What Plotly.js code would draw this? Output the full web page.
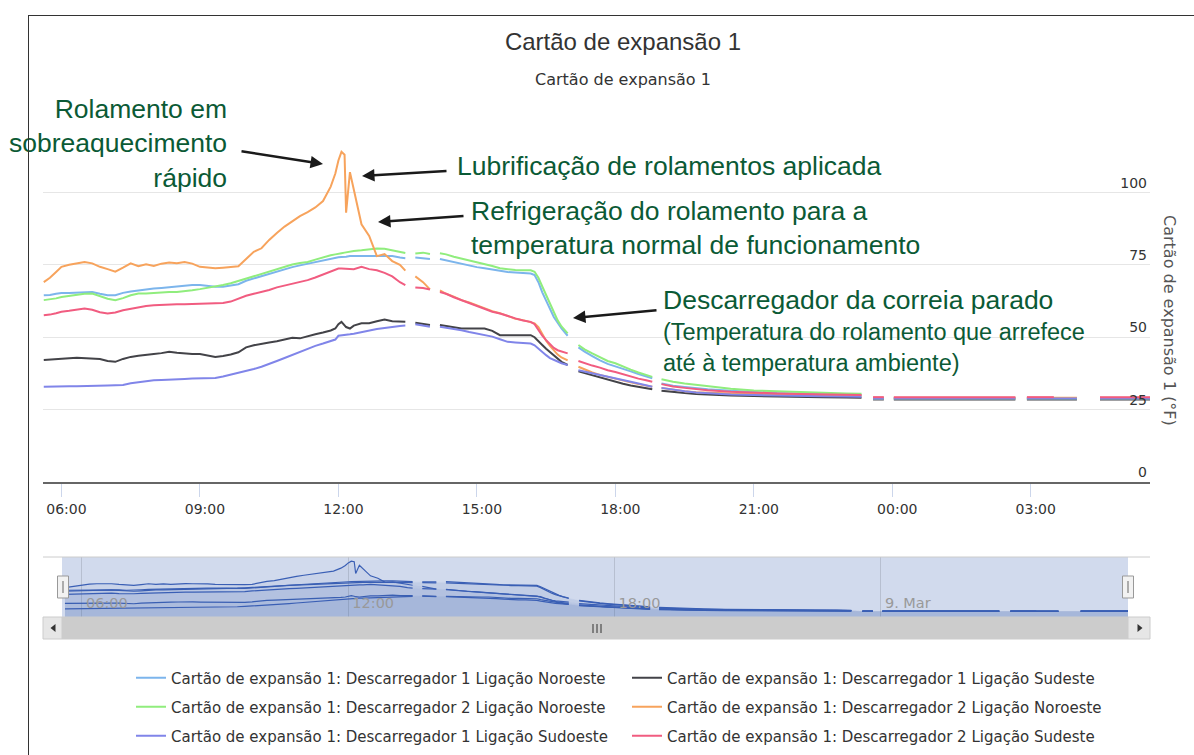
<!DOCTYPE html>
<html>
<head>
<meta charset="utf-8">
<script src="https://cdn.plot.ly/plotly-3.0.1.min.js"></script>
<style>
html,body{margin:0;padding:0;background:#fff;overflow:hidden}
#chart{width:1194px;height:755px;position:absolute;left:0;top:0}
#frame{position:absolute;left:28px;top:15px;right:-4px;bottom:-4px;border-left:1px solid #333;border-top:1px solid #333;pointer-events:none}
</style>
</head>
<body>
<div id="chart"></div>
<div id="frame"></div>
<script>
// ---------------- DATA ----------------
const DAY1 = '2015-03-08', DAY2 = '2015-03-09';
const timeLabels = [
'05:37','05:45','05:53','06:00','06:10','06:20','06:30','06:40','06:50','07:00',
'07:10','07:20','07:30','07:40','07:50','08:00','08:10','08:20','08:30','08:40',
'08:50','09:00','09:10','09:20','09:30','09:40','09:50','10:00','10:10','10:20',
'10:30','10:40','10:50','11:00','11:10','11:20','11:30','11:40','11:50','11:56',
'12:00','12:04','12:08','12:10','12:15','12:20','12:30','12:40','12:50','13:00',
'13:10','13:20','13:27','13:33','13:40','13:50','13:59','14:05','14:12','14:20',
'14:30','14:40','14:50','15:00','15:10','15:20','15:30','15:40','15:50','16:00',
'16:10','16:15','16:20','16:25','16:30','16:35','16:40','16:45','16:50','16:58',
'17:05','17:12','17:20','17:30','17:40','17:50','18:00','18:10','18:20','18:30',
'18:40','18:48','18:54','19:00','19:15','19:30','19:45','20:00','20:30','21:00',
'21:30','22:00','22:30','23:00','23:20','23:27','23:35','23:49','23:54','00:02',
'01:00','02:00','02:40','02:48','02:55','03:30','04:00','04:15','04:30','05:00',
'05:35'];

const seriesNames = [
'Cartão de expansão 1: Descarregador 1 Ligação Noroeste',
'Cartão de expansão 1: Descarregador 1 Ligação Sudeste',
'Cartão de expansão 1: Descarregador 2 Ligação Noroeste',
'Cartão de expansão 1: Descarregador 2 Ligação Noroeste',
'Cartão de expansão 1: Descarregador 1 Ligação Sudoeste',
'Cartão de expansão 1: Descarregador 2 Ligação Sudeste'];
const seriesColors = ['#7cb5ec','#434348','#90ed7d','#f7a35c','#8085e9','#f15c80'];

const d1Noroeste = [
64.5,64.6,65,65.3,65.3,65.4,65.6,65.6,65,64.5,
64.5,65.3,65.8,66.2,66.5,66.8,67,67.3,67.5,67.7,
68,68,67.7,67.4,67.4,67.8,68.3,69.5,70.3,71.2,
72,72.8,73.4,74.2,74.8,75.4,76,76.6,77,77.3,
77.6,77.7,77.7,77.8,78,78,78.2,78.2,78.2,78,
78,77.5,77.3,null,77.5,77.2,77,null,77,76.5,
76,75.5,74.8,74.2,73.8,73.3,72.8,72.5,72.3,72.2,
72,71.5,69,65.5,62.5,59.5,57,55,53,50.5,
null,46.5,45,43.5,42,40.8,40,39,38.2,37.3,
36.5,35.8,null,34,33.2,32.8,32.4,32,31.5,31,
30.7,30.5,30.3,30.2,30,null,29,29,null,29,
29,29,29,null,29,29,29,null,29,29,
29];
const d1Sudeste = [
42.1,42.3,42.5,42.7,42.7,42.9,42.7,42.7,42.5,41.8,
41.5,42.5,43.2,43.6,44,44.2,44.5,45,44.6,44.3,
44.2,44.2,43.8,43.2,43.5,44,44.8,46.5,47.2,47.8,
48.2,48.6,49.3,49.8,49.6,50.4,51,51.6,52.3,53,
54.5,55.3,54.3,53.5,53,54,54.8,54.8,55.5,56.1,
55.5,55.3,55.3,null,55,54.7,54.2,null,54.2,53.8,
53.3,53,53,53,53,52.2,50.7,50.7,50.7,50.7,
50.7,50,48.5,47.3,46,44.8,43.8,42.5,41.5,40.4,
null,38.2,37.6,36.8,36,35.2,34.6,33.9,33.3,32.8,
32.3,32,null,31.5,31,30.7,30.4,30.2,29.9,29.7,
29.5,29.4,29.3,29.2,29.1,null,28.5,28.5,null,28.5,
28.5,28.5,28.5,null,28.5,28.5,28.5,null,28.5,28.5,
28.5];
const d2Noroeste = [
62.8,63,63.4,63.9,64.3,64.7,65,65.1,64.2,63.3,
62.8,63.5,64.5,65.1,65.1,65.3,65.5,65.6,65.6,65.8,
66.2,66.6,67,67.4,68,68.6,69.4,70.2,71,71.8,
72.8,73.6,74.4,75.1,75.6,76,76.8,77.6,78.3,78.6,
78.9,79,79.2,79.3,79.6,79.8,80,80.3,80.6,80.5,
80,79.4,79.1,null,78.9,79.2,78.7,null,79,78.6,
77.8,77.2,76.5,76,75.4,74.6,73.8,73.4,73.2,73.1,
73.1,72.6,70.5,67.5,64.5,61.5,58.2,55.8,53.7,51.3,
null,47.3,45.8,44.4,43,41.8,41,39.8,38.8,37.8,
37,36.3,null,35.5,34.6,34,33.5,33,32.2,31.6,
31.3,31,30.8,30.6,30.5,null,28.8,28.8,null,28.8,
28.8,28.8,28.8,null,28.8,28.8,28.8,null,28.8,28.8,
28.8];
const d2NoroesteB = [
69,70.5,72.5,74.3,75,75.5,76,75.5,74.3,73.5,
72.6,74,75.5,74.5,75.2,74.6,75.4,75.8,75.5,76,
75.4,74.3,74,73.8,74,74.2,74.5,77,79.5,80.7,
83.6,86,88.2,90,91.8,93.2,94.8,97,102,106.5,
111,114,113,93,107,101,89,85,78,78.7,
76.3,75,73,null,71,69,66.5,null,66.2,65,
64,62.8,62,61,60,59,58.3,57.3,56.4,55.9,
55.3,54.8,53.5,51,48.8,47,45.5,44,43,42,
null,39.8,38.8,37.8,37,36.3,35.8,35.1,34.4,33.8,
33.3,32.9,null,32.5,31.8,31.3,31,30.8,30.6,30.4,
30.3,30.2,30,29.9,29.8,null,29.1,29.1,null,29.1,
29.1,29.1,29.1,null,29.1,29.1,29.1,null,29.1,29.1,
29.1];
const d1Sudoeste = [
32.9,33,33,33.1,33.1,33.1,33.1,33.2,33.2,33.3,
33.4,33.5,34.1,34.5,34.8,35.1,35.2,35.4,35.5,35.6,
35.7,35.7,35.8,35.9,36.4,37,37.6,38.2,39,39.8,
40.7,41.8,42.8,43.9,45,46.1,47,47.8,48.6,49.2,
50.5,50.7,50.7,50.8,51,51.2,51.8,52.4,52.8,53.2,
53.6,53.9,54,null,54.5,54,53.6,null,53.6,53.3,
52.8,52.4,51.8,51.3,50.9,50.2,49.3,48.4,48.2,48,
47.8,47.2,46,44.8,43.8,42.8,42.1,41.6,41,40.4,
null,38.6,38.1,37.5,36.9,36.3,35.8,35.2,34.6,34,
33.4,32.9,null,32.5,31.8,31.3,30.9,30.6,30.2,30,
29.8,29.7,29.6,29.5,29.4,null,28.8,28.8,null,28.8,
28.8,28.8,28.8,null,28.8,28.8,28.8,null,28.8,28.8,
28.8];
const d2Sudeste = [
57.6,57.8,58.3,58.8,59.1,59.5,59.9,59.5,58.6,58.2,
58.5,59.3,59.8,60.3,60.8,61,61.2,61.3,61.4,61.4,
61.5,61.5,61.6,61.6,61.8,62.3,63.3,64.3,65,65.6,
66.3,67.2,67.8,68.6,69.2,69.7,70.6,71.6,72.6,73.2,
73.7,73.7,73.7,73.7,73.7,73.5,74.3,73.5,73.1,72.2,
71,69,68,null,67.2,67,66.5,null,65.6,65,
63.8,62.8,61.8,61,60,58.8,58.2,57.3,56.5,55.8,
55.3,54.5,52.5,50.5,49,47.5,46.3,45.5,45,44.4,
null,41.8,41,40.2,39.5,38.6,38,37.2,36.4,35.7,
35.1,34.6,null,33.8,33,32.5,32,31.7,31.2,30.8,
30.6,30.4,30.2,30.1,30,null,29.3,29.3,null,29.3,
29.3,29.3,29.3,null,29.3,29.3,null,null,29.3,29.3,
29.3];
const seriesValues = [d1Noroeste, d1Sudeste, d2Noroeste, d2NoroesteB, d1Sudoeste, d2Sudeste];

const xTickTimes = ['2015-03-08 06:00','2015-03-08 09:00','2015-03-08 12:00','2015-03-08 15:00','2015-03-08 18:00','2015-03-08 21:00','2015-03-09 00:00','2015-03-09 03:00'];
const xTickText = ['06:00','09:00','12:00','15:00','18:00','21:00','00:00','03:00'];
const yTickVals = [0,25,50,75,100,125];
const yTickText = ['0','25','50','75','100',''];
const navTickTimes = ['2015-03-08 06:00','2015-03-08 12:00','2015-03-08 18:00','2015-03-09 00:00'];
const navTickText = ['06:00','12:00','18:00','9. Mar'];

// ---------------- BUILD ----------------
function toDates(labels){
  let day = DAY1, prev = -1;
  return labels.map(t => { const h = parseInt(t.slice(0,2),10); if (h < prev) day = DAY2; prev = h; return day + ' ' + t; });
}
const times = toDates(timeLabels);

const L = 43, R = 1150, T = 120, B = 638;
const px = x => (x - L) / (R - L);
const py = y => (B - y) / (B - T);

const legendIds = ['legend','legend','legend2','legend2','legend3','legend3'];
const traces = [];
seriesValues.forEach((vals, i) => {
  traces.push({
    x: times, y: vals, xaxis: 'x2', yaxis: 'y2', type: 'scatter', mode: 'lines',
    line: {color: '#3a5fb5', width: 1.2}, fill: 'tozeroy', fillcolor: 'rgba(51,92,173,0.05)',
    connectgaps: false, showlegend: false, hoverinfo: 'skip'
  });
});
seriesValues.forEach((vals, i) => {
  traces.push({
    x: times, y: vals, xaxis: 'x', yaxis: 'y', type: 'scatter', mode: 'lines',
    name: seriesNames[i], legend: legendIds[i],
    line: {color: seriesColors[i], width: 2}, connectgaps: false, hoverinfo: 'skip'
  });
});

const tickFont = {family: 'DejaVu Sans, Verdana, sans-serif', size: 14, color: '#333'};
const annFont = {family: 'Liberation Sans, Arial, sans-serif', size: 26.5, color: '#0b5a35'};
const annFontSmall = {family: 'Liberation Sans, Arial, sans-serif', size: 23.5, color: '#0b5a35'};

const legBase = {orientation: 'h', x: px(131), xanchor: 'left', yanchor: 'middle',
  entrywidth: 451, entrywidthmode: 'pixels', bgcolor: 'rgba(0,0,0,0)', borderwidth: 0,
  font: {family: 'DejaVu Sans, Verdana, sans-serif', size: 15, color: '#333'}, traceorder: 'normal'};

function arrow(hx, hy, tx, ty){
  return {xref: 'paper', yref: 'paper', x: px(hx), y: py(hy), ax: tx - hx, ay: ty - hy,
    axref: 'pixel', ayref: 'pixel', text: '', showarrow: true, arrowhead: 2, arrowsize: 1,
    arrowwidth: 2.5, arrowcolor: '#1a1a1a', standoff: 0, startstandoff: 0};
}
function rect(x0, y0, x1, y1, fill, line, layer){
  return {type: 'rect', xref: 'paper', yref: 'paper', x0: px(x0), x1: px(x1), y0: py(y1), y1: py(y0),
    fillcolor: fill, line: line ? {color: line, width: 1} : {width: 0}, layer: layer || 'above'};
}
function seg(x0, y0, x1, y1, color, w){
  return {type: 'line', xref: 'paper', yref: 'paper', x0: px(x0), x1: px(x1), y0: py(y0), y1: py(y1),
    line: {color: color, width: w || 1}};
}
function tri(pts, color){
  const d = pts.map((p, k) => (k ? 'L' : 'M') + px(p[0]) + ',' + py(p[1])).join(' ') + ' Z';
  return {type: 'path', xref: 'paper', yref: 'paper', path: d, fillcolor: color, line: {width: 0}};
}

const layout = {
  width: 1194, height: 755,
  margin: {l: L, r: 1194 - R, t: T, b: 755 - B, pad: 0, autoexpand: false},
  paper_bgcolor: '#ffffff', plot_bgcolor: 'rgba(0,0,0,0)',
  hovermode: false, dragmode: false,
  title: {text: 'Cartão de expansão 1', xref: 'container', yref: 'container', x: 623/1194, y: 1 - 42/755,
    xanchor: 'center', yanchor: 'middle', font: {family: 'Liberation Sans, Arial, sans-serif', size: 24, color: '#333'}},
  xaxis: {type: 'date', domain: [0, 1], anchor: 'y', range: ['2015-03-08 05:36', '2015-03-09 05:35'],
    tickmode: 'array', tickvals: xTickTimes, ticktext: xTickText, ticks: 'outside', ticklen: 13,
    tickcolor: '#ccd6eb', tickwidth: 1, ticklabelshift: 5, showgrid: false, showline: true, linecolor: '#666', linewidth: 2,
    zeroline: false, tickfont: tickFont, automargin: false, fixedrange: true},
  yaxis: {domain: [py(482), 1], anchor: 'x', side: 'right', range: [0, 125], tickmode: 'array',
    tickvals: yTickVals, ticktext: yTickText, ticklabelposition: 'inside top', ticks: '',
    showgrid: true, gridcolor: '#e6e6e6', gridwidth: 1, zeroline: false, showline: false,
    tickfont: tickFont, automargin: false, fixedrange: true},
  xaxis2: {type: 'date', domain: [px(62), px(1128)], anchor: 'y2', range: ['2015-03-08 05:33', '2015-03-09 05:34'],
    tickmode: 'array', tickvals: navTickTimes, ticktext: navTickText, ticklabelposition: 'inside right',
    ticklabelshift: 4, ticks: '', showgrid: true, gridcolor: 'rgba(0,0,0,0.12)', showline: false, zeroline: false,
    tickfont: {family: 'DejaVu Sans, Verdana, sans-serif', size: 14.5, color: '#999'}, automargin: false, fixedrange: true},
  yaxis2: {domain: [py(617), py(557)], anchor: 'x2', range: [19, 121], visible: false, fixedrange: true},
  legend: Object.assign({}, legBase, {y: py(678)}),
  legend2: Object.assign({}, legBase, {y: py(707)}),
  legend3: Object.assign({}, legBase, {y: py(736)}),
  shapes: [
    rect(62, 557, 1128, 617, 'rgba(102,133,194,0.3)', null, 'below'),
    seg(43, 557, 1150, 557, '#cccccc', 1),
    rect(43, 617, 1150, 639, '#f2f2f2', null),
    rect(62, 617, 1128, 639, '#cccccc', '#cccccc'),
    rect(43, 617, 62, 639, '#e6e6e6', '#cccccc'),
    rect(1128, 617, 1150, 639, '#e6e6e6', '#cccccc'),
    tri([[55.5, 624], [50.5, 628], [55.5, 632]], '#333'),
    tri([[1137.5, 624], [1142.5, 628], [1137.5, 632]], '#333'),
    seg(593, 624, 593, 633, '#333', 1),
    seg(597, 624, 597, 633, '#333', 1),
    seg(601, 624, 601, 633, '#333', 1),
    rect(57.5, 576, 68.5, 598, '#f2f2f2', '#999999'),
    rect(1122.5, 576, 1133.5, 598, '#f2f2f2', '#999999'),
    seg(63, 581, 63, 593, '#666', 1),
    seg(1128, 581, 1128, 593, '#666', 1)
  ],
  annotations: [
    {xref: 'paper', yref: 'paper', x: px(623), y: py(80), text: 'Cartão de expansão 1', showarrow: false,
      xanchor: 'center', yanchor: 'middle', font: {family: 'DejaVu Sans, Verdana, sans-serif', size: 16, color: '#333'}},
    {xref: 'paper', yref: 'paper', x: px(1170), y: py(320), text: 'Cartão de expansão 1 (°F)', textangle: 90,
      showarrow: false, xanchor: 'center', yanchor: 'middle', font: {family: 'DejaVu Sans, Verdana, sans-serif', size: 16, color: '#555'}},
    {xref: 'paper', yref: 'paper', x: px(229), y: py(143), text: 'Rolamento em<br>sobreaquecimento<br>rápido',
      showarrow: false, xanchor: 'right', yanchor: 'middle', align: 'right', font: annFont},
    {xref: 'paper', yref: 'paper', x: px(455), y: py(166), text: 'Lubrificação de rolamentos aplicada',
      showarrow: false, xanchor: 'left', yanchor: 'middle', align: 'left', font: annFont},
    {xref: 'paper', yref: 'paper', x: px(469), y: py(228), text: 'Refrigeração do rolamento para a<br>temperatura normal de funcionamento',
      showarrow: false, xanchor: 'left', yanchor: 'middle', align: 'left', font: annFont},
    {xref: 'paper', yref: 'paper', x: px(661), y: py(300), text: 'Descarregador da correia parado',
      showarrow: false, xanchor: 'left', yanchor: 'middle', align: 'left', font: annFont},
    {xref: 'paper', yref: 'paper', x: px(661), y: py(347.5), text: '(Temperatura do rolamento que arrefece<br>até à temperatura ambiente)',
      showarrow: false, xanchor: 'left', yanchor: 'middle', align: 'left', font: annFontSmall},
    arrow(323, 164, 240, 151),
    arrow(362, 176, 448, 171),
    arrow(378, 222, 465, 216),
    arrow(573, 318, 658, 310)
  ]
};

Plotly.newPlot('chart', traces, layout, {staticPlot: true, displayModeBar: false, responsive: false});
</script>
</body>
</html>
